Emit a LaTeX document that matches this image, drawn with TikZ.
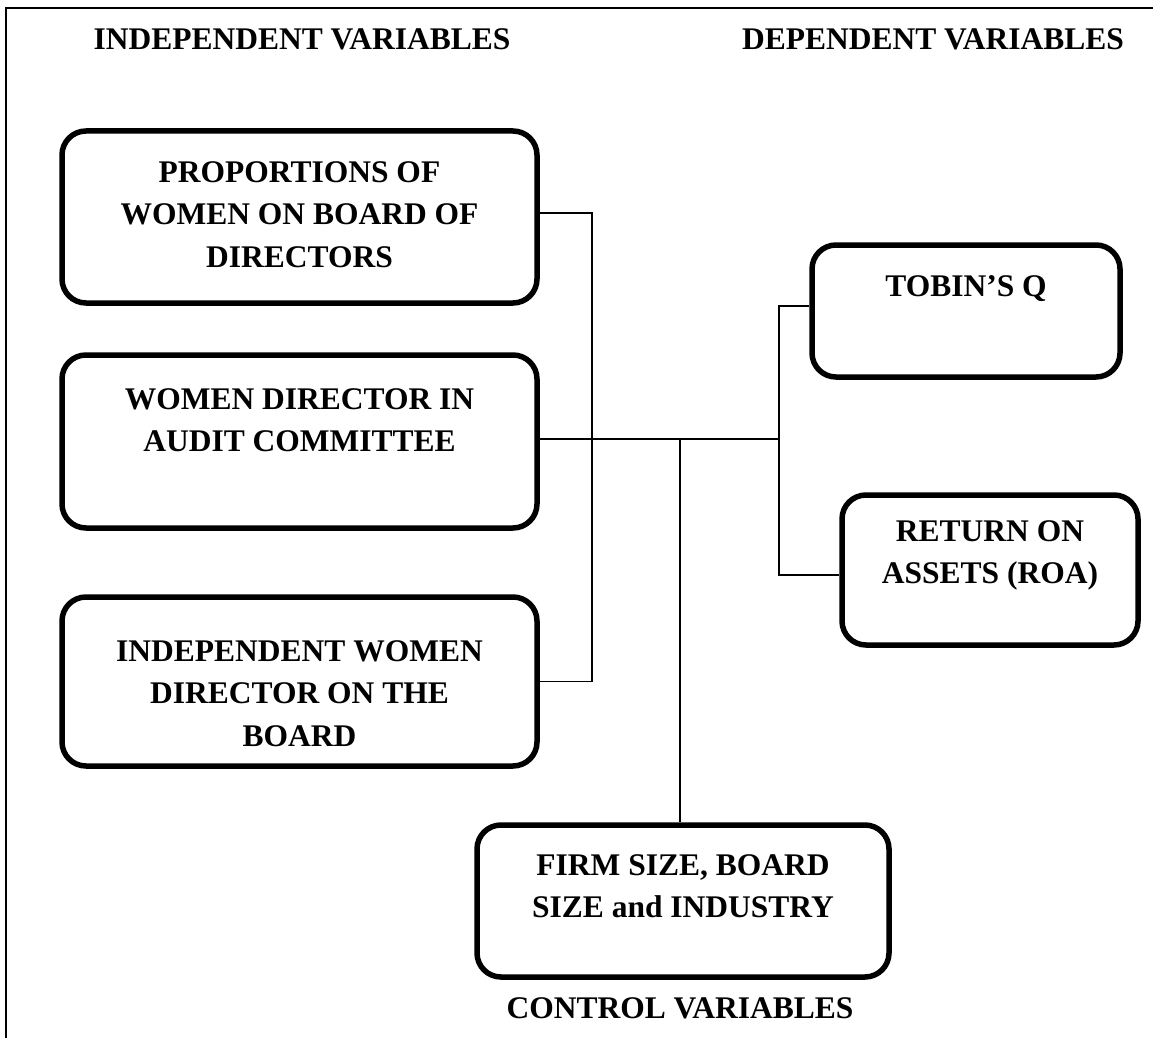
\documentclass[tikz,border=0pt]{standalone}
\usepackage{fontspec}
\setmainfont{Liberation Serif}
\begin{document}
\begin{tikzpicture}[x=1pt,y=-1pt,
  box/.style={draw, line width=5.5pt, rounded corners=24pt, inner sep=0pt},
  conn/.style={line width=1.4pt},
  lbl/.style={font=\bfseries\fontsize{31.5}{42.5}\selectfont, align=center, inner sep=0pt, anchor=north},
  head/.style={font=\bfseries\fontsize{31.5}{42.5}\selectfont, inner sep=0pt, anchor=base}]
\useasboundingbox (0,0) rectangle (1153,1038);
\coordinate (fa) at (6,1038);
\coordinate (fb) at (6,8);
\coordinate (fc) at (1153,8);
\draw[line width=2.5pt] (fa) -- (fb) -- (fc);

\node[head] (h1) at (302,50) {INDEPENDENT VARIABLES};
\node[head] (h2) at (933,50) {DEPENDENT VARIABLES};
\node[head] (h3) at (680,1018) {CONTROL VARIABLES};

\node[box, minimum width=475pt, minimum height=172pt] (b1) at (299.5,217) {};
\node[lbl] (t1) at (299.5,161) {PROPORTIONS OF\\WOMEN ON BOARD OF\\DIRECTORS};

\node[box, minimum width=475pt, minimum height=173pt] (b2) at (299.5,441.5) {};
\node[lbl] (t2) at (299.5,388) {WOMEN DIRECTOR IN\\AUDIT COMMITTEE};

\node[box, minimum width=475pt, minimum height=169pt] (b3) at (299.5,681.5) {};
\node[lbl] (t3) at (299.5,640) {INDEPENDENT WOMEN\\DIRECTOR ON THE\\BOARD};

\node[box, minimum width=308pt, minimum height=132pt] (tq) at (966,311) {};
\node[lbl] (ttq) at (966,275) {TOBIN’S Q};

\node[box, minimum width=296pt, minimum height=150pt] (roa) at (990,570) {};
\node[lbl] (troa) at (990,520) {RETURN ON\\ASSETS (ROA)};

\node[box, minimum width=412pt, minimum height=152pt] (fs) at (683,901) {};
\node[lbl] (tfs) at (683,854) {FIRM SIZE, BOARD\\SIZE and INDUSTRY};

\coordinate (j1) at (592,213);
\coordinate (j2) at (779,439);
\coordinate (jt) at (779,306);
\coordinate (jr) at (779,575);
\coordinate (j3) at (680,439);

\draw[conn] (b1.east |- j1) -- (j1) -- (j1 |- b3.east) -- (b3.east);
\draw[conn] (b2.east |- j2) -- (j2);
\draw[conn] (jt -| tq.west) -- (jt) -- (jr) -- (jr -| roa.west);
\draw[conn] (j3) -- (j3 |- fs.north);
\end{tikzpicture}
\end{document}
